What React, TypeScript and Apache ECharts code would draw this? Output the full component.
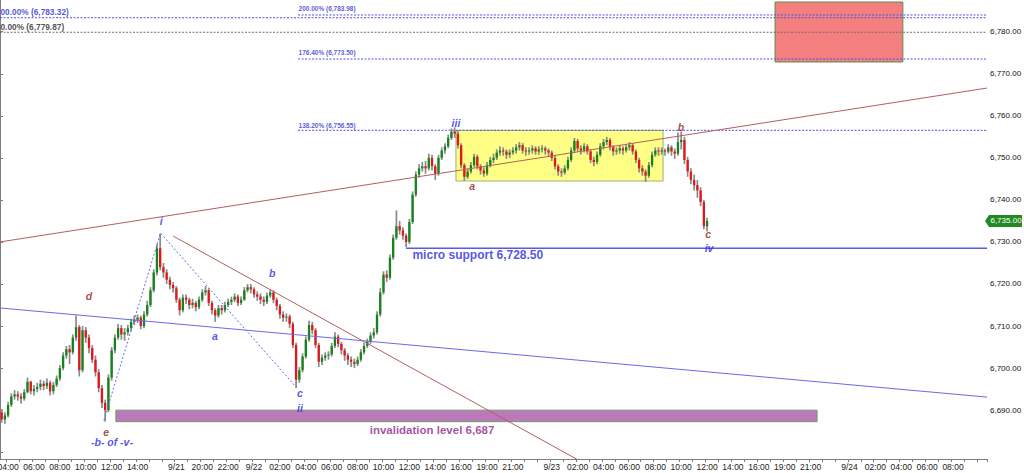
import React, { useEffect, useRef } from 'react';
import * as echarts from 'echarts';

// ---- time axis: 15-minute bars per trading session ----
const sessions = [
  { day: '9/19', next: '9/20', start: '03:30', bars: 54 },
  { day: '9/21', next: '9/22', start: '18:00', bars: 92 },
  { day: '9/22', next: '9/23', start: '18:00', bars: 92 },
  { day: '9/23', next: '9/24', start: '18:00', bars: 67 },
];

const axisLabels: [string, string][] = [
  ['9/19 04:00', '04:00'], ['9/19 06:00', '06:00'], ['9/19 08:00', '08:00'], ['9/19 10:00', '10:00'],
  ['9/19 12:00', '12:00'], ['9/19 14:00', '14:00'],
  ['9/21 18:00', '9/21'], ['9/21 20:00', '20:00'], ['9/21 22:00', '22:00'], ['9/22 00:00', '9/22'],
  ['9/22 02:00', '02:00'], ['9/22 04:00', '04:00'], ['9/22 06:00', '06:00'], ['9/22 08:00', '08:00'],
  ['9/22 10:00', '10:00'], ['9/22 12:00', '12:00'], ['9/22 14:00', '14:00'], ['9/22 16:00', '16:00'],
  ['9/22 19:00', '19:00'], ['9/22 21:00', '21:00'], ['9/23 00:00', '9/23'],
  ['9/23 02:00', '02:00'], ['9/23 04:00', '04:00'], ['9/23 06:00', '06:00'], ['9/23 08:00', '08:00'],
  ['9/23 10:00', '10:00'], ['9/23 12:00', '12:00'], ['9/23 14:00', '14:00'], ['9/23 16:00', '16:00'],
  ['9/23 19:00', '19:00'], ['9/23 21:00', '21:00'], ['9/24 00:00', '9/24'],
  ['9/24 02:00', '02:00'], ['9/24 04:00', '04:00'], ['9/24 06:00', '06:00'], ['9/24 08:00', '08:00'],
];

// ---- OHLC: [open, close, low, high] ----
const candlesSep19 = [
  [6689.5, 6687.75, 6687.0, 6690.25], [6687.75, 6688.75, 6686.75, 6689.5], [6688.75, 6691.25, 6688.25, 6692.0],
  [6691.25, 6693.25, 6690.75, 6694.0], [6693.25, 6693.75, 6692.5, 6694.75], [6693.75, 6693.25, 6692.25, 6694.5],
  [6693.25, 6692.75, 6691.5, 6694.0], [6692.75, 6694.25, 6692.25, 6695.0], [6694.25, 6696.75, 6694.0, 6697.75],
  [6696.75, 6694.5, 6693.75, 6697.0], [6694.5, 6695.0, 6693.5, 6696.0], [6695.0, 6695.5, 6694.25, 6696.5],
  [6695.5, 6696.25, 6694.75, 6697.25], [6696.25, 6695.75, 6694.75, 6697.0], [6695.75, 6696.5, 6695.0, 6697.5],
  [6696.5, 6694.5, 6693.5, 6697.0], [6694.5, 6696.0, 6693.75, 6696.75], [6696.0, 6697.5, 6695.5, 6698.25],
  [6697.5, 6700.0, 6697.0, 6700.75], [6700.0, 6703.0, 6699.5, 6703.75], [6703.0, 6704.5, 6702.25, 6705.25],
  [6704.5, 6703.75, 6701.0, 6705.5], [6703.75, 6707.25, 6703.25, 6708.0], [6707.25, 6709.75, 6706.5, 6712.5],
  [6709.75, 6699.5, 6698.0, 6710.25], [6699.5, 6709.0, 6699.0, 6710.0], [6709.0, 6707.25, 6706.0, 6709.75],
  [6707.25, 6704.75, 6703.5, 6708.0], [6704.75, 6702.0, 6701.25, 6705.5], [6702.0, 6699.0, 6698.0, 6703.0],
  [6699.0, 6695.25, 6694.25, 6699.75], [6695.25, 6691.75, 6690.5, 6696.0], [6691.75, 6690.0, 6687.25, 6692.5],
  [6690.0, 6697.75, 6689.5, 6698.5], [6697.75, 6704.25, 6697.0, 6705.0], [6704.25, 6707.25, 6703.5, 6708.0],
  [6707.25, 6709.5, 6706.75, 6710.5], [6709.5, 6708.0, 6706.75, 6710.25], [6708.0, 6708.5, 6706.5, 6709.5],
  [6708.5, 6709.5, 6707.75, 6710.25], [6709.5, 6711.0, 6708.75, 6711.75], [6711.0, 6711.5, 6710.25, 6712.5],
  [6711.5, 6712.0, 6710.75, 6712.75], [6712.0, 6710.0, 6709.25, 6712.5], [6710.0, 6712.75, 6709.5, 6713.5],
  [6712.75, 6715.0, 6712.25, 6716.0], [6715.0, 6718.5, 6714.5, 6719.25], [6718.5, 6722.75, 6718.0, 6723.5],
  [6722.75, 6728.5, 6722.0, 6729.5], [6728.5, 6724.0, 6723.25, 6732.0], [6724.0, 6722.75, 6721.5, 6725.0],
  [6722.75, 6721.0, 6720.0, 6723.5], [6721.0, 6719.75, 6718.75, 6721.75], [6719.75, 6719.0, 6718.0, 6720.5],
];

const candlesSep22 = [
  [6719.0, 6716.25, 6715.5, 6719.5], [6716.25, 6713.75, 6712.5, 6716.75], [6713.75, 6716.75, 6713.25, 6717.5],
  [6716.75, 6716.25, 6715.25, 6717.5], [6716.25, 6715.0, 6714.0, 6716.75], [6715.0, 6715.5, 6714.25, 6716.5],
  [6715.5, 6714.5, 6713.5, 6716.0], [6714.5, 6716.25, 6714.0, 6717.0], [6716.25, 6718.0, 6715.75, 6718.75],
  [6718.0, 6718.5, 6717.25, 6719.5], [6718.5, 6715.5, 6714.75, 6719.0], [6715.5, 6713.75, 6712.75, 6716.0],
  [6713.75, 6712.5, 6711.0, 6714.25], [6712.5, 6714.25, 6712.0, 6715.0], [6714.25, 6713.75, 6712.75, 6715.0],
  [6713.75, 6715.0, 6713.25, 6715.75], [6715.0, 6715.75, 6714.5, 6716.5], [6715.75, 6716.25, 6715.0, 6717.0],
  [6716.25, 6717.0, 6715.75, 6717.75], [6717.0, 6715.5, 6714.75, 6717.5], [6715.5, 6716.25, 6715.0, 6717.0],
  [6716.25, 6718.5, 6716.0, 6719.25], [6718.5, 6719.25, 6718.0, 6720.0], [6719.25, 6718.75, 6717.75, 6720.0],
  [6718.75, 6717.5, 6716.75, 6719.25], [6717.5, 6717.0, 6716.0, 6718.25], [6717.0, 6716.25, 6715.25, 6717.75],
  [6716.25, 6715.75, 6714.75, 6717.0], [6715.75, 6717.25, 6715.25, 6718.0], [6717.25, 6718.0, 6716.75, 6718.75],
  [6718.0, 6716.25, 6715.5, 6718.5], [6716.25, 6714.75, 6713.75, 6716.75], [6714.75, 6712.75, 6711.75, 6715.25],
  [6712.75, 6712.0, 6711.0, 6713.5], [6712.0, 6712.25, 6711.0, 6713.0], [6712.25, 6710.5, 6709.5, 6712.75],
  [6710.5, 6705.5, 6704.75, 6711.0], [6705.5, 6697.25, 6695.25, 6706.0], [6697.25, 6699.5, 6696.5, 6700.25],
  [6699.5, 6702.75, 6699.0, 6703.5], [6702.75, 6706.75, 6702.25, 6707.5], [6706.75, 6710.25, 6706.25, 6711.25],
  [6710.25, 6709.0, 6708.0, 6711.0], [6709.0, 6705.5, 6704.75, 6709.5], [6705.5, 6701.5, 6700.25, 6706.0],
  [6701.5, 6702.5, 6700.75, 6703.25], [6702.5, 6703.0, 6701.75, 6703.75], [6703.0, 6703.25, 6702.0, 6704.0],
  [6703.25, 6705.25, 6702.75, 6706.0], [6705.25, 6707.5, 6704.75, 6708.5], [6707.5, 6705.75, 6705.0, 6708.0],
  [6705.75, 6704.25, 6703.25, 6706.25], [6704.25, 6703.0, 6701.75, 6704.75], [6703.0, 6702.0, 6700.75, 6703.5],
  [6702.0, 6701.5, 6700.25, 6702.75], [6701.5, 6701.0, 6700.0, 6702.25], [6701.0, 6702.0, 6700.5, 6702.75],
  [6702.0, 6703.75, 6701.5, 6704.5], [6703.75, 6705.25, 6703.25, 6706.0], [6705.25, 6706.25, 6704.75, 6707.0],
  [6706.25, 6707.75, 6705.75, 6708.5], [6707.75, 6708.5, 6707.0, 6709.5], [6708.5, 6712.75, 6708.0, 6713.5],
  [6712.75, 6718.0, 6712.25, 6719.0], [6718.0, 6722.25, 6717.5, 6723.0], [6722.25, 6721.5, 6720.5, 6723.25],
  [6721.5, 6726.25, 6721.0, 6727.0], [6726.25, 6731.0, 6725.75, 6731.75], [6731.0, 6733.75, 6730.5, 6737.5],
  [6733.75, 6732.75, 6731.75, 6735.0], [6732.75, 6731.5, 6730.5, 6733.5], [6731.5, 6730.0, 6728.75, 6732.0],
  [6730.0, 6734.75, 6729.5, 6735.5], [6734.75, 6741.25, 6734.25, 6742.0], [6741.25, 6746.0, 6740.75, 6746.75],
  [6746.0, 6747.5, 6745.25, 6748.5], [6747.5, 6748.0, 6746.75, 6749.0], [6748.0, 6747.5, 6746.25, 6749.25],
  [6747.5, 6750.0, 6747.0, 6751.0], [6750.0, 6748.0, 6747.0, 6750.75], [6748.0, 6746.25, 6744.75, 6748.5],
  [6746.25, 6750.0, 6745.75, 6750.75], [6750.0, 6751.75, 6749.5, 6752.5], [6751.75, 6752.75, 6751.0, 6753.5],
  [6752.75, 6754.75, 6752.25, 6755.5], [6754.75, 6756.25, 6754.25, 6757.0], [6756.25, 6755.75, 6754.75, 6757.25],
  [6755.75, 6753.0, 6752.25, 6756.5], [6753.0, 6748.25, 6747.5, 6753.5], [6748.25, 6745.5, 6744.5, 6748.75],
  [6745.5, 6746.75, 6745.0, 6747.5], [6746.75, 6748.25, 6746.25, 6749.0],
];

const candlesSep23 = [
  [6748.25, 6750.25, 6747.75, 6751.0], [6750.25, 6748.0, 6747.25, 6750.75], [6748.0, 6747.0, 6746.0, 6748.5],
  [6747.0, 6746.25, 6745.5, 6747.75], [6746.25, 6748.25, 6745.75, 6749.0], [6748.25, 6749.5, 6747.75, 6750.25],
  [6749.5, 6750.0, 6748.75, 6751.0], [6750.0, 6751.25, 6749.5, 6752.0], [6751.25, 6751.75, 6750.5, 6752.75],
  [6751.75, 6751.5, 6750.5, 6752.5], [6751.5, 6750.75, 6749.75, 6752.0], [6750.75, 6751.25, 6750.0, 6752.0],
  [6751.25, 6751.75, 6750.75, 6752.5], [6751.75, 6752.5, 6751.0, 6753.25], [6752.5, 6753.0, 6751.75, 6753.75],
  [6753.0, 6751.75, 6751.0, 6753.5], [6751.75, 6751.5, 6750.5, 6752.5], [6751.5, 6751.75, 6750.75, 6752.5],
  [6751.75, 6752.25, 6751.0, 6753.0], [6752.25, 6751.5, 6750.75, 6752.75], [6751.5, 6752.0, 6750.75, 6752.75],
  [6752.0, 6752.25, 6751.25, 6753.0], [6752.25, 6751.75, 6750.75, 6752.75], [6751.75, 6751.25, 6750.25, 6752.25],
  [6751.25, 6750.0, 6749.25, 6751.75], [6750.0, 6748.0, 6747.25, 6750.5], [6748.0, 6746.75, 6745.75, 6748.5],
  [6746.75, 6746.5, 6745.5, 6747.5], [6746.5, 6747.5, 6746.0, 6748.25], [6747.5, 6749.5, 6747.0, 6750.25],
  [6749.5, 6751.75, 6749.0, 6752.5], [6751.75, 6754.0, 6751.25, 6754.75], [6754.0, 6752.25, 6751.5, 6754.5],
  [6752.25, 6751.75, 6750.75, 6753.0], [6751.75, 6752.75, 6751.25, 6753.5], [6752.75, 6751.5, 6750.75, 6753.25],
  [6751.5, 6749.5, 6748.75, 6752.0], [6749.5, 6749.0, 6748.0, 6750.25], [6749.0, 6750.75, 6748.5, 6751.5],
  [6750.75, 6752.75, 6750.25, 6753.5], [6752.75, 6753.75, 6752.0, 6754.5], [6753.75, 6754.25, 6753.0, 6755.0],
  [6754.25, 6752.5, 6751.75, 6754.75], [6752.5, 6751.5, 6750.5, 6753.0], [6751.5, 6751.75, 6750.75, 6752.5],
  [6751.75, 6752.25, 6751.0, 6753.0], [6752.25, 6751.75, 6750.75, 6752.75], [6751.75, 6752.5, 6751.25, 6753.25],
  [6752.5, 6753.0, 6751.75, 6753.75], [6753.0, 6751.5, 6750.75, 6753.5], [6751.5, 6749.5, 6748.75, 6752.0],
  [6749.5, 6747.5, 6746.5, 6750.0], [6747.5, 6746.75, 6745.75, 6748.25], [6746.75, 6745.75, 6744.25, 6747.25],
  [6745.75, 6748.25, 6745.25, 6749.0], [6748.25, 6750.75, 6747.75, 6751.5], [6750.75, 6751.75, 6750.25, 6752.5],
  [6751.75, 6751.5, 6750.5, 6752.5], [6751.5, 6751.75, 6750.75, 6752.5], [6751.75, 6751.5, 6750.5, 6752.25],
  [6751.5, 6752.5, 6751.0, 6753.25], [6752.5, 6751.5, 6750.5, 6753.0], [6751.5, 6751.0, 6749.75, 6752.25],
  [6751.0, 6753.75, 6750.5, 6756.0], [6753.75, 6754.25, 6752.0, 6756.25], [6754.25, 6749.5, 6748.5, 6755.0],
  [6749.5, 6746.75, 6745.5, 6750.25], [6746.75, 6744.75, 6743.75, 6747.5], [6744.75, 6743.5, 6742.25, 6746.0],
  [6743.5, 6742.25, 6740.5, 6744.75], [6742.25, 6739.5, 6738.5, 6743.0], [6739.5, 6733.75, 6733.0, 6740.0],
  [6733.75, 6735.0, 6732.5, 6735.75],
];

// ---- annotations (x in bar units from chart's left edge, y in price) ----
const trendUpper = [[0, 6730.0], [305, 6766.6]];
const trendDown = [[53.5, 6731.4], [179.0, 6678.0]];
const channelLow = [[0, 6714.3], [305, 6693.1]];
const microSupport = [[125.5, 6728.5], [305, 6728.5]];
const waveDotted = [[32.1, 6687.6], [49.6, 6732.1], [91.6, 6695.4]];
const fibLevelsBlue = [
  { from: 0, price: 6783.32 },
  { from: 92.1, price: 6783.98 },
  { from: 92.1, price: 6773.5 },
  { from: 92.1, price: 6756.55 },
];
const fibLevelGray = { from: 0, price: 6779.87 };
const fibTexts = [
  { x: 92.1, y: 6785.4, text: '200.00% (6,783.98)' },
  { x: 92.1, y: 6775.0, text: '176.40% (6,773.50)' },
  { x: 92.1, y: 6757.7, text: '138.20% (6,756.55)' },
];
const boxTarget = [[239.5, 6787.06], [279.0, 6772.8]];
const boxRange = [[140.9, 6756.55], [204.9, 6744.5]];
const boxInvalidation = [[35.8, 6690.0], [252.5, 6687.25]];

const waveLabelsBlue = [
  { x: 34.6, y: 6682.4, text: '-b- of -v-' },
  { x: 49.8, y: 6735.0, text: 'i' },
  { x: 66.4, y: 6707.6, text: 'a' },
  { x: 84.1, y: 6722.6, text: 'b' },
  { x: 92.7, y: 6694.0, text: 'c' },
  { x: 92.7, y: 6690.6, text: 'ii' },
  { x: 140.9, y: 6758.3, text: 'iii' },
  { x: 219.1, y: 6728.6, text: 'iv' },
];
const waveLabelsRed = [
  { x: 27.5, y: 6717.2, text: 'd' },
  { x: 32.8, y: 6684.8, text: 'e' },
  { x: 145.9, y: 6743.3, text: 'a' },
  { x: 210.4, y: 6757.3, text: 'b' },
  { x: 218.8, y: 6731.8, text: 'c' },
];

const Y_MIN = 6678.38;
const Y_MAX = 6787.54;
const FONT = 'Arial, "Liberation Sans", Helvetica, sans-serif';
const BLUE = '#2a2ae0';
const DARKRED = '#8e1d1d';

function buildCategories(): string[] {
  const cats: string[] = [];
  for (const s of sessions) {
    const [h, m] = s.start.split(':').map(Number);
    const mins = h * 60 + m;
    for (let k = 0; k < s.bars; k++) {
      const t = mins + k * 15;
      const day = t >= 1440 ? s.next : s.day;
      const tt = t % 1440;
      const hh = String(Math.floor(tt / 60)).padStart(2, '0');
      const mm = String(tt % 60).padStart(2, '0');
      cats.push(`${day} ${hh}:${mm}`);
    }
  }
  return cats;
}

const fmtPrice = (v: number) =>
  v.toLocaleString('en-US', { minimumFractionDigits: 2, maximumFractionDigits: 2 });

export default function App() {
  const ref = useRef<HTMLDivElement>(null);

  useEffect(() => {
    document.body.style.margin = '0';
    if (!ref.current) return;
    const chart = echarts.init(ref.current, undefined, { renderer: 'svg' });
    const categories = buildCategories();
    const N = categories.length;
    const labelMap: Record<string, string> = {};
    axisLabels.forEach(([k, v]) => (labelMap[k] = v));

    const candles = [...candlesSep19, ...candlesSep22, ...candlesSep23];
    const candleData = candles.map((c, i) => [i, c[0], c[1], c[2], c[3]]);
    const lastClose = candles[candles.length - 1][1];

    const lineSeries = (data: number[][], color: string, type: any, width = 1, z = 5) => ({
      type: 'line',
      xAxisIndex: 1,
      yAxisIndex: 0,
      data,
      symbol: 'none',
      silent: true,
      z,
      lineStyle: { color, width, type },
      animation: false,
    });

    const boxArea = (b: number[][], color: string, border: string) => [
      { coord: b[0], itemStyle: { color, borderColor: border, borderWidth: 1 } },
      { coord: b[1] },
    ];

    const textSeries = (items: any[], color: string, fontSize: number, italic: boolean, position: string) => ({
      type: 'scatter',
      xAxisIndex: 1,
      yAxisIndex: 0,
      symbolSize: 1,
      silent: true,
      z: 8,
      itemStyle: { color: 'rgba(0,0,0,0)' },
      data: items.map((t) => ({
        value: [t.x, t.y],
        label: {
          show: true,
          formatter: t.text,
          position,
          distance: 0,
          color,
          fontSize,
          fontFamily: FONT,
          fontWeight: 'bold',
          fontStyle: italic ? 'italic' : 'normal',
        },
      })),
    });

    const option: any = {
      animation: false,
      grid: { left: 0, right: 37, top: 0, bottom: 14, containLabel: false, outerBoundsMode: 'none' },
      xAxis: [
        {
          type: 'category',
          data: categories,
          boundaryGap: true,
          axisLine: { show: true, lineStyle: { color: '#7d7d7d' } },
          axisTick: {
            show: true,
            length: 3,
            interval: (_i: number, v: string) => v.endsWith(':00'),
            lineStyle: { color: '#7d7d7d' },
          },
          axisLabel: {
            interval: (_i: number, v: string) => labelMap[v] !== undefined,
            formatter: (v: string) => labelMap[v] ?? '',
            fontSize: 8.5,
            fontFamily: FONT,
            color: '#222',
            margin: 3,
          },
          splitLine: { show: false },
        },
        { type: 'value', min: 0, max: N, show: false },
      ],
      yAxis: {
        type: 'value',
        position: 'right',
        min: Y_MIN,
        max: Y_MAX,
        splitNumber: 11,
        splitLine: { show: false },
        axisLine: { show: true, lineStyle: { color: '#7d7d7d' } },
        axisTick: { show: true, length: 3, lineStyle: { color: '#7d7d7d' } },
        axisLabel: {
          showMinLabel: false,
          showMaxLabel: false,
          margin: 3,
          fontSize: 8,
          fontFamily: FONT,
          color: '#111',
          formatter: (v: number) => (Math.abs(v - 6680) < 0.01 ? '' : fmtPrice(v)),
        },
      },
      series: [
        {
          type: 'line',
          xAxisIndex: 1,
          yAxisIndex: 0,
          data: [],
          z: 1,
          silent: true,
          markArea: {
            silent: true,
            data: [
              boxArea(boxRange, '#ffff85', '#9bb27a'),
              boxArea(boxTarget, '#f3807f', '#5f8a4f'),
              boxArea(boxInvalidation, '#bb79bb', '#6f9f5f'),
            ],
          },
        },
        {
          type: 'custom',
          xAxisIndex: 0,
          yAxisIndex: 0,
          z: 3,
          silent: true,
          data: candleData,
          encode: { x: 0, y: [1, 2, 3, 4] },
          renderItem: (_p: any, api: any) => {
            const idx = api.value(0);
            const o = api.value(1);
            const c = api.value(2);
            const l = api.value(3);
            const h = api.value(4);
            const top = api.coord([idx, Math.max(o, c)]);
            const bot = api.coord([idx, Math.min(o, c)]);
            const hi = api.coord([idx, h]);
            const lo = api.coord([idx, l]);
            const w = api.size([1, 0])[0] * 0.72;
            const up = c >= o;
            return {
              type: 'group',
              children: [
                {
                  type: 'line',
                  shape: { x1: hi[0], y1: hi[1], x2: lo[0], y2: lo[1] },
                  style: { stroke: '#8a8a8a', lineWidth: 1.7 },
                },
                {
                  type: 'rect',
                  shape: { x: top[0] - w / 2, y: top[1], width: w, height: Math.max(1, bot[1] - top[1]) },
                  style: { fill: up ? '#15841a' : '#e3161b' },
                },
              ],
            };
          },
        },
        lineSeries(trendUpper, '#b45f5f', 'solid', 1),
        lineSeries(trendDown, '#b45f5f', 'solid', 1),
        lineSeries(channelLow, '#6a6ae6', 'solid', 1),
        lineSeries(microSupport, '#5a5ae6', 'solid', 1.3),
        lineSeries(waveDotted, '#6a6ae6', [2, 2], 1),
        ...fibLevelsBlue.map((f) =>
          lineSeries([[f.from, f.price], [N, f.price]], '#5151dd', [2, 1.5], 1, 2)
        ),
        lineSeries([[fibLevelGray.from, fibLevelGray.price], [N, fibLevelGray.price]], '#6e6e6e', [2, 1.5], 1, 2),
        textSeries(fibTexts, '#2f2fcf', 6.5, false, 'right'),
        textSeries([{ x: 0, y: 6784.7, text: '00.00% (6,783.32)' }], '#2a2ad0', 8.3, false, 'right'),
        textSeries([{ x: 0, y: 6781.1, text: '0.00% (6,779.87)' }], '#222222', 8.3, false, 'right'),
        textSeries(waveLabelsBlue, BLUE, 10.5, true, 'inside'),
        textSeries(waveLabelsRed, DARKRED, 10.5, true, 'inside'),
        textSeries([{ x: 127.3, y: 6726.9, text: 'micro support 6,728.50' }], '#2a2ae0', 12, false, 'right'),
        textSeries([{ x: 133.5, y: 6685.3, text: 'invalidation level 6,687' }], '#8e1f8e', 11.5, false, 'inside'),
      ],
    };

    chart.setOption(option);

    const py = chart.convertToPixel({ yAxisIndex: 0 }, lastClose) as number;
    const axisX = chart.convertToPixel({ xAxisIndex: 1 }, N) as number;
    chart.setOption({
      graphic: [
        {
          type: 'polygon',
          z: 20,
          shape: {
            points: [
              [axisX - 2, py],
              [axisX + 2, py - 6],
              [axisX + 35, py - 6],
              [axisX + 35, py + 6],
              [axisX + 2, py + 6],
            ],
          },
          style: { fill: '#238a23' },
        },
        {
          type: 'text',
          z: 21,
          x: axisX + 19,
          y: py,
          style: {
            text: fmtPrice(lastClose),
            fill: '#ffffff',
            font: `8px ${FONT}`,
            align: 'center',
            verticalAlign: 'middle',
          },
        },
      ],
    });

    return () => chart.dispose();
  }, []);

  return (
    <div
      ref={ref}
      style={{ position: 'fixed', left: 0, top: 0, width: 1024, height: 473, background: '#ffffff' }}
    />
  );
}
